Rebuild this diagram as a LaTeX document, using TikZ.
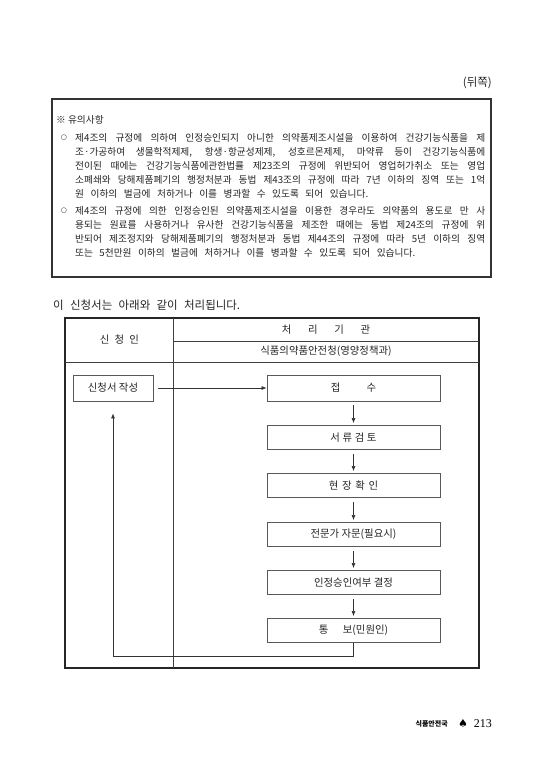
\documentclass[tikz,border=0pt]{standalone}
\usepackage{fontspec}
\setmainfont{Noto Sans CJK KR}
\newfontfamily\dejavu{DejaVu Sans}
\newfontfamily\lserif{Liberation Serif}
\usetikzlibrary{arrows.meta}
\tikzset{
  txt/.style={inner sep=0pt, font=\fontsize{9.7pt}{11pt}\selectfont, text=black!85},
  ln/.style={txt, anchor=west},
  bul/.style={inner sep=0pt, font=\dejavu\fontsize{7pt}{8pt}\selectfont, text=black!85},
  fbox/.style={draw=black!65, line width=0.9pt, minimum width=173pt, minimum height=24pt, inner sep=0pt, font=\fontsize{10.4pt}{11pt}\selectfont, text=black!85},
  arr/.style={draw=black!80, line width=0.6pt, -{Latex[length=5pt,width=4pt]}},
  tline/.style={draw=black!75, line width=0.6pt},
  hd/.style={inner sep=0pt, font=\fontsize{10.4pt}{11pt}\selectfont, text=black!85},
}
\begin{document}
\begin{tikzpicture}[x=1pt,y=-1pt]
\useasboundingbox (0,0) rectangle (544,770);
\fill[white] (0,0) rectangle (544,770);

% header mark
\node[txt, anchor=east, font=\fontsize{11.5pt}{12pt}\selectfont] (back) at (492,83) {(뒤쪽)};

% note box
\draw[draw=black!80, line width=1.1pt] (52,99) rectangle (491,277);
\node[ln] (note) at (56,120) {※ 유의사항};
\node[bul] (o1) at (64,138) {○};
\node[ln] (a1) at (75,138) {\makebox[410pt][s]{제4조의 규정에 의하여 인정승인되지 아니한 의약품제조시설을 이용하여 건강기능식품을 제}};
\node[ln] (a2) at (75,152) {\makebox[410pt][s]{조·가공하여 생물학적제제, 항생·항균성제제, 성호르몬제제, 마약류 등이 건강기능식품에}};
\node[ln] (a3) at (75,166) {\makebox[410pt][s]{전이된 때에는 건강기능식품에관한법률 제23조의 규정에 위반되어 영업허가취소 또는 영업}};
\node[ln] (a4) at (75,180) {\makebox[410pt][s]{소폐쇄와 당해제품폐기의 행정처분과 동법 제43조의 규정에 따라 7년 이하의 징역 또는 1억}};
\node[ln] (a5) at (75,194) {\makebox[293pt][s]{원 이하의 벌금에 처하거나 이를 병과할 수 있도록 되어 있습니다.}};
\node[bul] (o2) at (64,211) {○};
\node[ln] (b1l) at (75,211) {\makebox[410pt][s]{제4조의 규정에 의한 인정승인된 의약품제조시설을 이용한 경우라도 의약품의 용도로 만 사}};
\node[ln] (b2l) at (75,225) {\makebox[410pt][s]{용되는 원료를 사용하거나 유사한 건강기능식품을 제조한 때에는 동법 제24조의 규정에 위}};
\node[ln] (b3l) at (75,239) {\makebox[410pt][s]{반되어 제조정지와 당해제품폐기의 행정처분과 동법 제44조의 규정에 따라 5년 이하의 징역}};
\node[ln] (b4l) at (75,253) {\makebox[340pt][s]{또는 5천만원 이하의 벌금에 처하거나 이를 병과할 수 있도록 되어 있습니다.}};

% title
\node[txt, anchor=west, font=\fontsize{11.5pt}{12pt}\selectfont] (title) at (53,305) {\makebox[187pt][s]{이 신청서는 아래와 같이 처리됩니다.}};

% table
\draw[draw=black!85, line width=1.2pt] (65,318) rectangle (479,668);
\draw[tline] (173,318) -- (173,668);
\draw[tline] (173,341) -- (479,341);
\draw[tline] (65,362) -- (479,362);
\node[hd] (h1) at (119.5,340) {신\hspace{0.5em}청\hspace{0.5em}인};
\node[hd] (h2) at (326,330) {처\hspace{1.6em}리\hspace{1.6em}기\hspace{1.6em}관};
\node[hd] (h3) at (326,351.5) {식품의약품안전청(영양정책과)};

% flow
\node[fbox, minimum width=80pt, minimum height=26pt] (s0) at (113,388) {신청서 작성};
\node[fbox, minimum height=26pt] (s1) at (353.5,388) {접\hspace{2.5em}수};
\node[fbox] (s2) at (353.5,437.5) {서\hspace{0.25em}류\hspace{0.25em}검\hspace{0.25em}토};
\node[fbox] (s3) at (353.5,485.5) {현\hspace{0.35em}장\hspace{0.35em}확\hspace{0.35em}인};
\node[fbox] (s4) at (353.5,534.5) {전문가 자문(필요시)};
\node[fbox] (s5) at (353.5,582.5) {인정승인여부 결정};
\node[fbox] (s6) at (353.5,630.5) {통\hspace{1.4em}보(민원인)};

\draw[arr, shorten <=5pt] (s0.east) -- (s1.west);
\draw[arr, shorten <=4pt, shorten >=2pt] (s1) -- (s2);
\draw[arr, shorten <=4pt, shorten >=2pt] (s2) -- (s3);
\draw[arr, shorten <=4pt, shorten >=2pt] (s3) -- (s4);
\draw[arr, shorten <=4pt, shorten >=2pt] (s4) -- (s5);
\draw[arr, shorten <=4pt, shorten >=2pt] (s5) -- (s6);
\coordinate (fb) at (353.5,656);
\draw[arr, shorten >=12pt] (s6.south) -- (fb) -| (s0.south);

% footer
\node[inner sep=0pt, anchor=east, font=\lserif\fontsize{12pt}{14pt}\selectfont] (pg) at (492,724) {213};
\node[inner sep=0pt, font=\dejavu\fontsize{11pt}{12pt}\selectfont] (spade) at (463,723) {♠};
\node[inner sep=0pt, anchor=east, font=\bfseries\fontsize{7pt}{8pt}\selectfont] (dept) at (448,724) {식품안전국};
\end{tikzpicture}
\end{document}
